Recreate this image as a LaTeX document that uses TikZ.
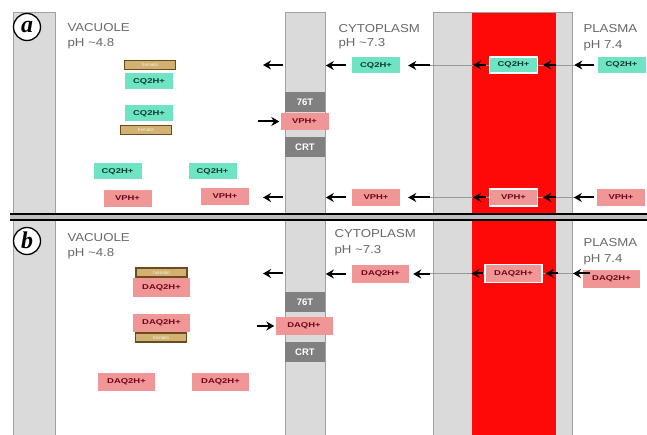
\documentclass[tikz,border=0pt]{standalone}
\usepackage{fontspec}
\usepackage{graphicx}
\setmainfont{Liberation Sans}
\newfontfamily\lblserif{Liberation Serif}
\usetikzlibrary{arrows.meta}
\definecolor{bandgray}{RGB}{218,218,218}
\definecolor{bandedge}{RGB}{160,160,160}
\definecolor{memred}{RGB}{255,8,8}
\definecolor{cqfill}{RGB}{110,228,196}
\definecolor{cqtext}{RGB}{10,60,45}
\definecolor{vpfill}{RGB}{241,150,150}
\definecolor{vptext}{RGB}{110,5,25}
\definecolor{hemfill}{RGB}{210,178,115}
\definecolor{hemedge}{RGB}{110,75,30}
\definecolor{tgray}{RGB}{128,128,128}
\definecolor{labtext}{RGB}{105,105,105}
\newcommand{\wid}[1]{\scalebox{1.35}[1]{#1}}
\newcommand{\wtx}[1]{\scalebox{1.15}[1]{#1}}
\begin{document}
\begin{tikzpicture}[x=1pt,y=-1pt,
  box/.style={inner sep=0pt, font=\bfseries\fontsize{7}{8}\selectfont},
  cq/.style={box, fill=cqfill, text=cqtext, minimum width=48pt, minimum height=16pt},
  vp/.style={box, fill=vpfill, text=vptext, minimum width=48pt, minimum height=17pt},
  dq/.style={box, fill=vpfill, text=vptext, minimum width=57pt, minimum height=18pt},
  onred/.style={draw=white, line width=1.2pt},
  hem/.style={inner sep=0pt, fill=hemfill, draw=hemedge, line width=1.3pt, text=white!85!hemfill, font=\fontsize{4.5}{5}\selectfont, minimum width=51pt, minimum height=9pt},
  trans/.style={inner sep=0pt, fill=tgray, text=white, font=\bfseries\fontsize{9.5}{10}\selectfont, minimum width=40pt, minimum height=20pt},
  comp/.style={anchor=base west, text=labtext, font=\fontsize{11.5}{12}\selectfont},
  arr/.style={draw=black, line width=2pt, -{Stealth[length=8pt,width=9pt]}},
  faint/.style={draw=gray!80, line width=0.6pt},
  panel/.style={circle, draw=black, line width=1.3pt, fill=white, inner sep=0pt, minimum size=27pt, font=\lblserif\bfseries\itshape\fontsize{24}{24}\selectfont}
]
\useasboundingbox (0,0) rectangle (647,435);
\fill[white] (0,0) rectangle (647,435);
% bands
\draw[bandedge, line width=1pt, fill=bandgray] (13,13) rectangle (55,435);
\draw[bandedge, line width=1pt, fill=bandgray] (285,13) rectangle (325,435);
\draw[bandedge, line width=1pt, fill=bandgray] (433,13) rectangle (572,435);
\fill[memred] (472,13) rectangle (556,435);
% separator
\fill[gray!50] (10,214) rectangle (647,220);
\draw[line width=2pt] (10,214) -- (647,214);
\draw[line width=2pt] (10,220) -- (647,220);

% panel labels
\node[panel] (pa) at (27,27) {\raisebox{1pt}{a}};
\node[panel] (pb) at (27,241) {\raisebox{1pt}{b}};

% compartment labels
\node[comp] (vacA) at (64,32) {\wtx{VACUOLE}};
\node[comp] (vacApH) at (64,47) {\wtx{pH \textasciitilde4.8}};
\node[comp] (cytA) at (335,33) {\wtx{CYTOPLASM}};
\node[comp] (cytApH) at (335,47) {\wtx{pH \textasciitilde7.3}};
\node[comp] (plA) at (580,33) {\wtx{PLASMA}};
\node[comp] (plApH) at (580,49) {\wtx{pH 7.4}};
\node[comp] (vacB) at (64,242) {\wtx{VACUOLE}};
\node[comp] (vacBpH) at (64,257) {\wtx{pH \textasciitilde4.8}};
\node[comp] (cytB) at (331,238) {\wtx{CYTOPLASM}};
\node[comp] (cytBpH) at (331,254) {\wtx{pH \textasciitilde7.3}};
\node[comp] (plB) at (580,247) {\wtx{PLASMA}};
\node[comp] (plBpH) at (580,263) {\wtx{pH 7.4}};

% ---------- panel a ----------
% faint lines across membrane
\draw[faint] (430,65) -- (575,65);
\draw[faint] (430,197.5) -- (575,197.5);

\node[hem] (hemA1) at (150,65) {hematin};
\node[cq] (cqA1) at (149,81.5) {\wid{CQ2H+}};
\node[cq] (cqA2) at (149,113.5) {\wid{CQ2H+}};
\node[hem] (hemA2) at (146,130) {hematin};
\node[cq] (cqA3) at (117.5,171.5) {\wid{CQ2H+}};
\node[cq] (cqA4) at (212.5,171.5) {\wid{CQ2H+}};
\node[vp] (vpA3) at (127.5,198.5) {\wid{VPH+}};
\node[vp] (vpA4) at (225,196.5) {\wid{VPH+}};

\node[trans] (tA) at (305,102) {76T};
\node[vp] (vpA) at (304.5,121.5) {\wid{VPH+}};
\node[trans] (crtA) at (305,147) {CRT};

\node[cq] (cqCytA) at (376,65.5) {\wid{CQ2H+}};
\node[cq, onred] (cqRedA) at (513.5,65) {\wid{CQ2H+}};
\node[cq] (cqPlA) at (621.5,65) {\wid{CQ2H+}};
\node[vp] (vpCytA) at (376,197.5) {\wid{VPH+}};
\node[vp, onred] (vpRedA) at (513.5,197.5) {\wid{VPH+}};
\node[vp] (vpPlA) at (621,197.5) {\wid{VPH+}};

% arrows row 1 (a)
\coordinate (a1t0) at (283,65); \coordinate (a1h0) at (263,65);
\draw[arr] ([xshift=-3pt]cqPlA.west) -- ([xshift=-23pt]cqPlA.west);
\draw[arr] ([xshift=18pt]cqRedA.east) -- ([xshift=5pt]cqRedA.east);
\draw[arr] ([xshift=-3pt]cqRedA.west) -- ([xshift=-16pt]cqRedA.west);
\draw[arr] ([xshift=30pt]cqCytA.east) -- ([xshift=8pt]cqCytA.east);
\draw[arr] ([xshift=-6pt]cqCytA.west) -- ([xshift=-26pt]cqCytA.west);
\draw[arr] (a1t0) -- (a1h0);
% arrows row 2 (a)
\coordinate (a2t0) at (283,197.5); \coordinate (a2h0) at (263,197.5);
\draw[arr] ([xshift=-3pt]vpPlA.west) -- ([xshift=-23pt]vpPlA.west);
\draw[arr] ([xshift=18pt]vpRedA.east) -- ([xshift=5pt]vpRedA.east);
\draw[arr] ([xshift=-3pt]vpRedA.west) -- ([xshift=-16pt]vpRedA.west);
\draw[arr] ([xshift=30pt]vpCytA.east) -- ([xshift=8pt]vpCytA.east);
\draw[arr] ([xshift=-6pt]vpCytA.west) -- ([xshift=-26pt]vpCytA.west);
\draw[arr] (a2t0) -- (a2h0);
% into vacuole transporter
\draw[arr] ([xshift=-22pt]vpA.west) -- ([xshift=-1pt]vpA.west);

% ---------- panel b ----------
\draw[faint] (430,273.5) -- (575,273.5);

\node[hem] (hemB1) at (161.5,272.5) {hematin};
\node[dq] (dqB1) at (161.5,287.5) {\wid{DAQ2H+}};
\node[dq] (dqB2) at (161.5,322.5) {\wid{DAQ2H+}};
\node[hem] (hemB2) at (161,337.5) {hematin};
\node[dq] (dqB3) at (126.5,381.5) {\wid{DAQ2H+}};
\node[dq] (dqB4) at (220.5,381.5) {\wid{DAQ2H+}};

\node[trans] (tB) at (305,302) {76T};
\node[dq] (dqhB) at (304,326) {\wid{DAQH+}};
\node[trans] (crtB) at (305,352) {CRT};

\node[dq] (dqCytB) at (380.5,274) {\wid{DAQ2H+}};
\node[dq, onred] (dqRedB) at (513.5,273.5) {\wid{DAQ2H+}};
\node[dq] (dqPlB) at (611.5,279) {\wid{DAQ2H+}};

\coordinate (b1t0) at (283,273.5); \coordinate (b1h0) at (263,273.5);
\coordinate (b1t4) at (590,273.5); \coordinate (b1h4) at (573,273.5);
\draw[arr] (b1t4) -- (b1h4);
\draw[arr] ([xshift=15pt]dqRedB.east) -- ([xshift=3pt]dqRedB.east);
\draw[arr] ([xshift=-1pt]dqRedB.west) -- ([xshift=-13pt]dqRedB.west);
\draw[arr] ([xshift=21pt]dqCytB.east) -- ([xshift=4pt]dqCytB.east);
\draw[arr] ([xshift=-6pt]dqCytB.west) -- ([xshift=-26pt]dqCytB.west);
\draw[arr] (b1t0) -- (b1h0);
\draw[arr] ([xshift=-18pt]dqhB.west) -- ([xshift=-1pt]dqhB.west);
\end{tikzpicture}
\end{document}
